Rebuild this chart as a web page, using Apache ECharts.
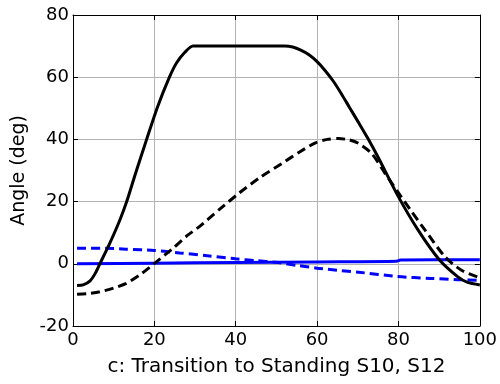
<!DOCTYPE html>
<html>
<head>
<meta charset="utf-8">
<script src="https://cdn.jsdelivr.net/npm/echarts@6/dist/echarts.min.js"></script>
<style>
  html, body { margin: 0; padding: 0; background: #fff; }
  #chart { width: 500px; height: 384px; }
</style>
</head>
<body>
<div id="chart"></div>
<script>
// Joint angle trajectories over the transition to standing (% of motion)
const xTicks = [0, 20, 40, 60, 80, 100];
const yTicks = [-20, 0, 20, 40, 60, 80];

const blackSolidX = [1, 2.5, 4.2, 5.5, 6.6, 9, 11.5, 13.2, 15.6, 18.1, 20.8, 23.7, 25.4, 27.5, 29.5, 40, 52, 54, 56, 58, 60, 62, 64, 66, 68, 70.2, 72.4, 75.1, 79.8, 84.8, 90.1, 94.6, 97, 100];
const blackSolidY = [-7, -6.8, -5.5, -3, 0, 6.5, 14, 20, 30, 40, 50.5, 60, 64.5, 68, 70, 70, 70, 69.7, 68.7, 67.2, 65, 62.1, 58.7, 54.6, 50.2, 45.4, 40.5, 34, 22, 10.9, 1.2, -4.2, -6, -6.8];

const blackDashX = [1, 3.5, 6.6, 10, 13.1, 16.5, 19.9, 24.5, 28.2, 31, 36, 40.8, 46, 51.4, 55.5, 59.6, 62.5, 65.3, 68, 70.2, 73.4, 76.7, 79.8, 83, 86.5, 91.4, 95.4, 100];
const blackDashY = [-9.8, -9.6, -9, -7.8, -6.3, -3.5, 0, 4.9, 9.2, 11.9, 17.5, 22.7, 27.8, 32.3, 35.8, 38.9, 40, 40.3, 39.8, 38.7, 35.5, 29.1, 23.2, 17.2, 10.9, 2.3, -2, -4.5];

const blueSolidX = [1, 20, 40, 60, 79.5, 80.5, 100];
const blueSolidY = [0, 0.2, 0.4, 0.6, 0.8, 1.2, 1.3];

const blueDashX = [1, 8, 13, 20, 26.2, 33, 40, 45, 49.8, 55, 60, 65, 70.2, 79.8, 88, 94.6, 100];
const blueDashY = [5, 5, 4.7, 4.3, 3.5, 2.6, 1.6, 1.0, 0.5, -0.5, -1.4, -2.1, -2.7, -4.1, -4.7, -5.1, -5.3];

const xTitle = 'c: Transition to Standing S10, S12';
const yTitle = 'Angle (deg)';

function pairs(xs, ys) { return xs.map((x, i) => [x, ys[i]]); }

const font = '"DejaVu Sans", "Liberation Sans", Arial, sans-serif';
const chart = echarts.init(document.getElementById('chart'), null, { renderer: 'canvas' });

const baseX = {
  type: 'value', min: xTicks[0], max: xTicks[xTicks.length - 1], interval: 20,
  axisLine: { show: true, onZero: false, lineStyle: { color: '#000', width: 1 } },
  axisTick: { show: true, inside: true, length: 5, lineStyle: { color: '#000' } }
};
const baseY = {
  type: 'value', min: yTicks[0], max: yTicks[yTicks.length - 1], interval: 20,
  axisLine: { show: true, onZero: false, lineStyle: { color: '#000', width: 1 } },
  axisTick: { show: true, inside: true, length: 5, lineStyle: { color: '#000' } }
};

function line(xs, ys, color, dashed) {
  return {
    type: 'line', xAxisIndex: 0, yAxisIndex: 0,
    data: pairs(xs, ys), showSymbol: false, symbol: 'none',
    smooth: 0.25, animation: false,
    lineStyle: { color: color, width: 3, type: dashed ? [9, 5] : 'solid' }
  };
}

chart.setOption({
  animation: false,
  backgroundColor: '#fff',
  grid: { left: 73, right: 18, top: 15, bottom: 58, containLabel: false },
  xAxis: [
    Object.assign({}, baseX, {
      position: 'bottom',
      name: xTitle, nameLocation: 'middle', nameGap: 31,
      nameTextStyle: { color: '#000', fontSize: 20, fontFamily: font },
      axisLabel: { color: '#000', fontSize: 18, fontFamily: font, margin: 5 },
      splitLine: { show: true, lineStyle: { color: '#b4b4b4', width: 1 } }
    }),
    Object.assign({}, baseX, {
      position: 'top', axisLabel: { show: false }, splitLine: { show: false }
    })
  ],
  yAxis: [
    Object.assign({}, baseY, {
      position: 'left',
      name: yTitle, nameLocation: 'middle', nameGap: 39,
      nameTextStyle: { color: '#000', fontSize: 19, fontFamily: font },
      axisLabel: { color: '#000', fontSize: 18, fontFamily: font, margin: 4 },
      splitLine: { show: true, lineStyle: { color: '#b4b4b4', width: 1 } }
    }),
    Object.assign({}, baseY, {
      position: 'right', axisLabel: { show: false }, splitLine: { show: false }
    })
  ],
  series: [
    line(blueSolidX, blueSolidY, '#0000ff', false),
    line(blueDashX, blueDashY, '#0000ff', true),
    line(blackSolidX, blackSolidY, '#000000', false),
    line(blackDashX, blackDashY, '#000000', true)
  ]
});
</script>
</body>
</html>
